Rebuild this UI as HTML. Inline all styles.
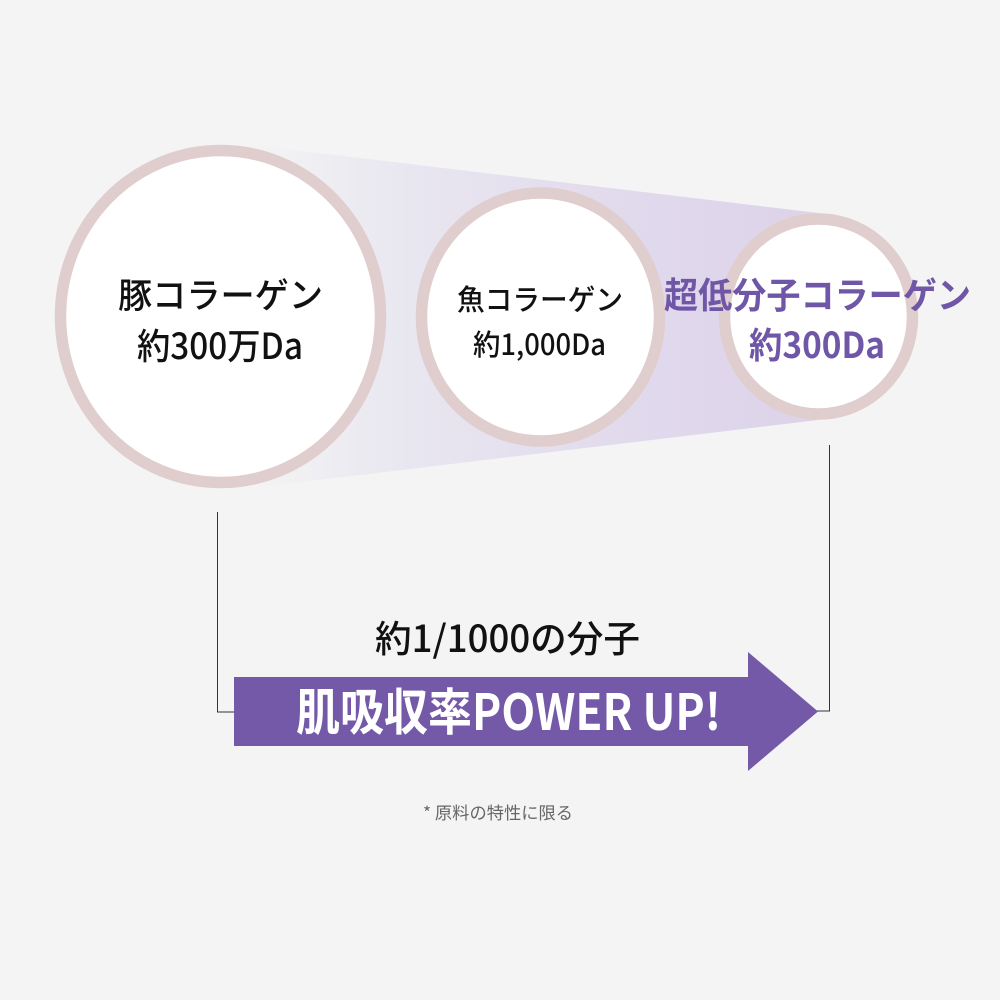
<!DOCTYPE html>
<html>
<head>
<meta charset="utf-8">
<style>
html,body{margin:0;padding:0;background:#f4f4f4;}
svg{display:block;}
text{font-family:"Noto Sans CJK JP","Liberation Sans",sans-serif;}
</style>
</head>
<body>
<svg width="1000" height="1000" viewBox="0 0 1000 1000" xmlns="http://www.w3.org/2000/svg">
<defs>
<linearGradient id="g" x1="250" y1="0" x2="820" y2="0" gradientUnits="userSpaceOnUse">
<stop offset="0" stop-color="#f4f4f4"/>
<stop offset="0.26" stop-color="#e9e7f0"/>
<stop offset="0.72" stop-color="#e0d8ec"/>
<stop offset="1" stop-color="#ddd3e9"/>
</linearGradient>
</defs>
<rect width="1000" height="1000" fill="#f4f4f4"/>
<polygon points="260,146 818,213 818,420 260,487" fill="url(#g)"/>
<ellipse cx="220.500" cy="316.500" rx="160" ry="166" fill="#fff" stroke="#e0cdcd" stroke-width="11.500"/>
<ellipse cx="540.500" cy="317" rx="119" ry="124" fill="#fff" stroke="#e0cdcd" stroke-width="11.500"/>
<ellipse cx="818.500" cy="316.500" rx="94" ry="97.500" fill="#fff" stroke="#e0cdcd" stroke-width="11.500"/>
<text x="118" y="308" font-size="35" font-weight="500" fill="#111" textLength="205" lengthAdjust="spacingAndGlyphs">豚コラーゲン</text>
<text x="137" y="359" font-size="36" font-weight="500" fill="#111" textLength="166" lengthAdjust="spacingAndGlyphs">約300万Da</text>
<text x="457" y="310" font-size="29" font-weight="500" fill="#111" textLength="166" lengthAdjust="spacingAndGlyphs">魚コラーゲン</text>
<text x="473" y="355" font-size="29" font-weight="500" fill="#111" textLength="133" lengthAdjust="spacingAndGlyphs">約1,000Da</text>
<text x="664" y="308" font-size="36" font-weight="700" fill="#6f56a6" textLength="307" lengthAdjust="spacingAndGlyphs">超低分子コラーゲン</text>
<text x="749" y="358" font-size="36" font-weight="700" fill="#6f56a6" textLength="136" lengthAdjust="spacingAndGlyphs">約300Da</text>
<path d="M217.500 512V712H236M829.500 445V711H815" fill="none" stroke="#333" stroke-width="1"/>
<text x="375" y="652" font-size="37" font-weight="500" fill="#111" textLength="265" lengthAdjust="spacingAndGlyphs">約1/1000の分子</text>
<polygon points="234,677 748,677 748,652 818,711.500 748,771 748,746 234,746" fill="#7359a7"/>
<text x="296" y="730" font-size="50" font-weight="700" fill="#fff" textLength="425" lengthAdjust="spacingAndGlyphs">肌吸収率POWER UP!</text>
<text x="423" y="819" font-size="17" font-weight="400" fill="#666" textLength="150" lengthAdjust="spacingAndGlyphs">* 原料の特性に限る</text>
</svg>
</body>
</html>
